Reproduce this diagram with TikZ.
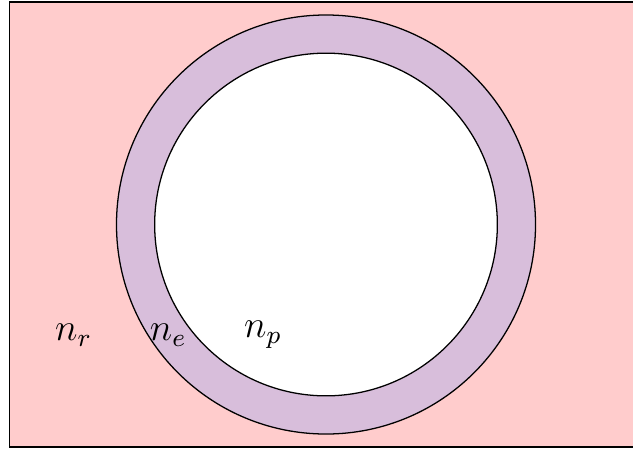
\documentclass[tikz,border=0pt]{standalone}
\usepackage{amsmath,amssymb}
\usetikzlibrary{positioning}
\definecolor{FigRegion}{HTML}{FFCCCC}
\definecolor{FigShell}{HTML}{D8BEDB}
\definecolor{FigDark}{HTML}{000000}
\tikzset{
  regionbox/.style={draw=FigDark, fill=FigRegion, line width=0.5pt},
  shellcircle/.style={circle, draw=FigDark, fill=FigShell, line width=0.4pt, inner sep=0pt},
  corecircle/.style={circle, draw=FigDark, fill=white, line width=0.4pt, inner sep=0pt},
  densitylabel/.style={inner sep=1pt, text=FigDark, font=\large}
}

\begin{document}
\begin{tikzpicture}[x=0.011cm,y=-0.011cm]
\path[use as bounding box] (0,0) rectangle (633,448);

\node[regionbox, minimum width=6.96cm, minimum height=4.90cm, anchor=north west] (region) at (8.5,1) {};

\node[shellcircle, minimum size=4.61cm] (shell) at (326,224.5) {};
\node[corecircle, minimum size=3.77cm] (core) at (326,224.5) {};

\node[densitylabel] (np) at (263,335) {$n_p$};
\node[densitylabel, left=0.55cm of np] (ne) {$n_e$};
\node[densitylabel, left=0.55cm of ne] (nr) {$n_r$};

\end{tikzpicture}
\end{document}
